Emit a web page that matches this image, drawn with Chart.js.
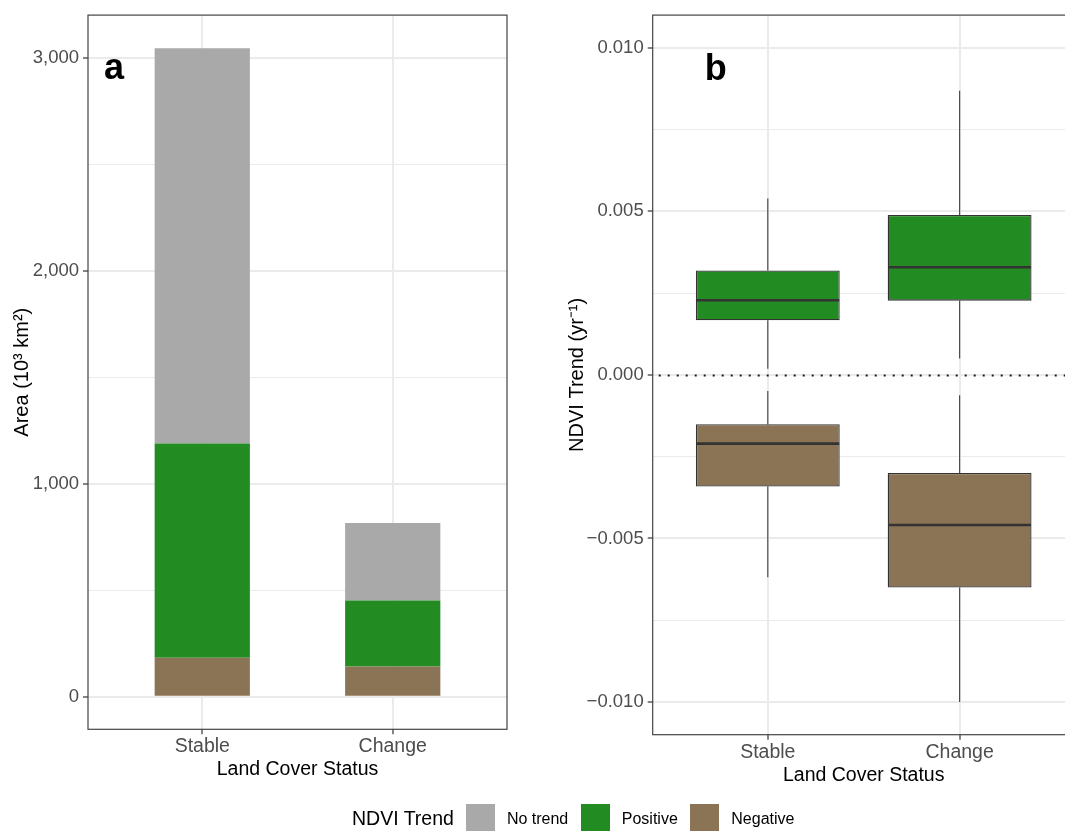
<!DOCTYPE html>
<html>
<head>
<meta charset="utf-8">
<script src="https://cdn.jsdelivr.net/npm/chart.js@4.4.1/dist/chart.umd.min.js"></script>
<style>
  html, body { margin: 0; padding: 0; background: #fff; width: 1065px; height: 831px; overflow: hidden; position: relative; font-family: "Liberation Sans", Arial, sans-serif; }
  #areaChart { position: absolute; left: 0; top: 0; }
  #trendChart { position: absolute; left: 540px; top: 0; }
  #legend { position: absolute; left: 352px; top: 804px; height: 29px; display: flex; align-items: center; white-space: nowrap; }
  #legend .title { font-size: 19.5px; color: #000; margin-right: 12px; }
  #legend .key { width: 29px; height: 29px; margin-right: 12px; }
  #legend .lab { font-size: 16px; color: #000; margin-right: 12.5px; }
</style>
</head>
<body>
<canvas id="areaChart" width="540" height="831"></canvas>
<canvas id="trendChart" width="545" height="831"></canvas>
<div id="legend"></div>
<script>
// ---- data -------------------------------------------------------------
const landCover = ['Stable', 'Change'];

// Area by NDVI trend class (10^3 km^2)
const areaNegative = [184, 143];
const areaPositive = [1006, 309];
const areaNoTrend  = [1856, 364];
const areaTickValues = [0, 1000, 2000, 3000];
const areaTickLabels = ['0', '1,000', '2,000', '3,000'];
const areaMinorTicks = [500, 1500, 2500];

// NDVI trend distributions (yr^-1): whiskers, quartiles, medians
const posWhiskerLow  = [0.00019, 0.00050];
const posQ1          = [0.00167, 0.00227];
const posMedian      = [0.00228, 0.00329];
const posQ3          = [0.00319, 0.00489];
const posWhiskerHigh = [0.00539, 0.00869];

const negWhiskerLow  = [-0.00619, -0.01000];
const negQ1          = [-0.00341, -0.00650];
const negMedian      = [-0.00210, -0.00459];
const negQ3          = [-0.00151, -0.00300];
const negWhiskerHigh = [-0.00049, -0.00062];

const trendTickValues = [-0.010, -0.005, 0, 0.005, 0.010];
const trendTickLabels = ['\u22120.010', '\u22120.005', '0.000', '0.005', '0.010'];
const trendMinorTicks = [-0.0075, -0.0025, 0.0025, 0.0075];

// ---- styling ----------------------------------------------------------
const FONT = '"Liberation Sans", Arial, sans-serif';
const COLORS = { 'No trend': '#A9A9A9', 'Positive': '#228B22', 'Negative': '#8B7355' };
const GRID = '#EBEBEB';
const INK = '#333333';
const TICK_TEXT = '#4D4D4D';

const atCategories = vals => vals.map((v, i) => ({ x: i + 1, y: v }));

function majorMinorTicks(values, labels, minors) {
  return values.map((v, i) => ({ value: v, name: labels[i], minor: false }))
    .concat(minors.map(v => ({ value: v, name: '', minor: true })))
    .sort((a, b) => a.value - b.value);
}

function categoryAxis(height, titleBottomPad) {
  return {
    type: 'linear', min: 0.4, max: 2.6, offset: false, stacked: true,
    afterBuildTicks: s => { s.ticks = landCover.map((n, i) => ({ value: i + 1, name: n })); },
    afterFit: s => { s.height = height; },
    ticks: { callback: (v, i, t) => t[i].name, color: TICK_TEXT, font: { family: FONT, size: 19.5 }, padding: 1, maxRotation: 0, autoSkip: false },
    grid: { offset: false, color: GRID, lineWidth: 2, tickColor: INK, tickWidth: 1.2, tickLength: 5 },
    border: { display: false },
    title: { display: true, text: 'Land Cover Status', color: '#000', font: { family: FONT, size: 19.5 }, padding: { top: 0, bottom: titleBottomPad } }
  };
}

function valueAxis(min, max, values, labels, minors, width, title, titlePad, stacked) {
  return {
    type: 'linear', min: min, max: max, stacked: stacked,
    afterBuildTicks: s => { s.ticks = majorMinorTicks(values, labels, minors); },
    afterFit: s => { s.width = width; },
    ticks: { callback: (v, i, t) => t[i].name, color: TICK_TEXT, font: { family: FONT, size: 18.5 }, padding: 4, autoSkip: false },
    grid: {
      offset: false,
      color: GRID,
      lineWidth: c => (c.tick && c.tick.minor) ? 1 : 2,
      tickColor: c => (c.tick && c.tick.minor) ? 'rgba(0,0,0,0)' : INK,
      tickWidth: 1.2, tickLength: 5
    },
    border: { display: false },
    title: { display: true, text: title, color: '#000', font: { family: FONT, size: 20 }, padding: { top: titlePad, bottom: 0 } }
  };
}

// Panel frame and panel letter
const panelFrame = {
  id: 'panelFrame',
  afterDraw(chart, args, opts) {
    const { ctx, chartArea: a } = chart;
    ctx.save();
    ctx.strokeStyle = '#444';
    ctx.lineWidth = 1.2;
    ctx.strokeRect(a.left, a.top, a.right - a.left, a.bottom - a.top);
    ctx.font = 'bold 36px ' + FONT;
    ctx.fillStyle = '#000';
    ctx.textBaseline = 'alphabetic';
    ctx.textAlign = 'left';
    ctx.fillText(opts.letter, a.left + opts.dx, a.top + opts.dy);
    ctx.restore();
  }
};

// Whiskers, medians and the zero reference line for the box plots
const boxPlotParts = {
  id: 'boxPlotParts',
  beforeDatasetsDraw(chart) {
    const { ctx, chartArea: a, scales: { y } } = chart;
    ctx.save();
    const y0 = Math.round(y.getPixelForValue(0)) + 0.5;
    ctx.strokeStyle = '#1a1a1a';
    ctx.lineWidth = 2;
    ctx.setLineDash([2, 7]);
    ctx.beginPath(); ctx.moveTo(a.left + 6, y0); ctx.lineTo(a.right, y0); ctx.stroke();
    ctx.setLineDash([]);
    ctx.strokeStyle = '#4d4d4d';
    ctx.lineWidth = 1.2;
    chart.data.datasets.forEach((ds, di) => {
      chart.getDatasetMeta(di).data.forEach((bar, i) => {
        const [q1, q3] = ds.data[i].y;
        ctx.beginPath();
        ctx.moveTo(bar.x, y.getPixelForValue(ds.stats.high[i]));
        ctx.lineTo(bar.x, y.getPixelForValue(q3));
        ctx.moveTo(bar.x, y.getPixelForValue(q1));
        ctx.lineTo(bar.x, y.getPixelForValue(ds.stats.low[i]));
        ctx.stroke();
      });
    });
    ctx.restore();
  },
  afterDatasetsDraw(chart) {
    const { ctx, scales: { y } } = chart;
    ctx.save();
    ctx.strokeStyle = INK;
    ctx.lineWidth = 2.6;
    chart.data.datasets.forEach((ds, di) => {
      chart.getDatasetMeta(di).data.forEach((bar, i) => {
        const ym = y.getPixelForValue(ds.stats.median[i]);
        ctx.beginPath();
        ctx.moveTo(bar.x - bar.width / 2 + 0.6, ym);
        ctx.lineTo(bar.x + bar.width / 2 - 0.6, ym);
        ctx.stroke();
      });
    });
    ctx.restore();
  }
};

// ---- panel a: stacked area bars ---------------------------------------
const areaChart = new Chart(document.getElementById('areaChart'), {
  type: 'bar',
  data: {
    datasets: [
      { label: 'Negative', data: atCategories(areaNegative), backgroundColor: COLORS['Negative'] },
      { label: 'Positive', data: atCategories(areaPositive), backgroundColor: COLORS['Positive'] },
      { label: 'No trend', data: atCategories(areaNoTrend),  backgroundColor: COLORS['No trend'] }
    ]
  },
  options: {
    responsive: false, animation: false, devicePixelRatio: 1, events: [],
    layout: { padding: { left: 0, top: 13, right: 33, bottom: 41 } },
    datasets: { bar: { categoryPercentage: 1, barPercentage: 0.5, borderWidth: 0 } },
    scales: {
      x: categoryAxis(60.7, 8.5),
      y: valueAxis(-152.5, 3202, areaTickValues, areaTickLabels, areaMinorTicks, 88, 'Area (10\u00B3 km\u00B2)', 10, true)
    },
    plugins: { legend: { display: false }, tooltip: { enabled: false }, panelFrame: { letter: 'a', dx: 16, dy: 64 } }
  },
  plugins: [panelFrame]
});

// ---- panel b: NDVI trend box plots ------------------------------------
const boxData = (q1, q3) => landCover.map((n, i) => ({ x: i + 1, y: [q1[i], q3[i]] }));
const trendXAxis = categoryAxis(55.3, 2.5);
trendXAxis.stacked = false;

new Chart(document.getElementById('trendChart'), {
  type: 'bar',
  data: {
    datasets: [
      { label: 'Positive', data: boxData(posQ1, posQ3), backgroundColor: COLORS['Positive'],
        stats: { low: posWhiskerLow, median: posMedian, high: posWhiskerHigh } },
      { label: 'Negative', data: boxData(negQ1, negQ3), backgroundColor: COLORS['Negative'],
        stats: { low: negWhiskerLow, median: negMedian, high: negWhiskerHigh } }
    ]
  },
  options: {
    responsive: false, animation: false, devicePixelRatio: 1, events: [],
    layout: { padding: { left: 0, top: 13, right: 10.3, bottom: 41 } },
    datasets: { bar: { grouped: false, categoryPercentage: 1, barPercentage: 0.75, borderWidth: 1.3, borderColor: INK, borderSkipped: false } },
    scales: {
      x: trendXAxis,
      y: valueAxis(-0.011, 0.011, trendTickValues, trendTickLabels, trendMinorTicks, 112.7, 'NDVI Trend (yr\u207B\u00B9)', 25, false)
    },
    plugins: { legend: { display: false }, tooltip: { enabled: false }, panelFrame: { letter: 'b', dx: 52, dy: 64.7 } }
  },
  plugins: [boxPlotParts, panelFrame]
});

// ---- shared legend ----------------------------------------------------
const legendEl = document.getElementById('legend');
const legendTitle = document.createElement('span');
legendTitle.className = 'title';
legendTitle.textContent = 'NDVI Trend';
legendEl.appendChild(legendTitle);
areaChart.data.datasets.slice().reverse().forEach(ds => {
  const key = document.createElement('span');
  key.className = 'key';
  key.style.background = ds.backgroundColor;
  const lab = document.createElement('span');
  lab.className = 'lab';
  lab.textContent = ds.label;
  legendEl.appendChild(key);
  legendEl.appendChild(lab);
});
</script>
</body>
</html>
